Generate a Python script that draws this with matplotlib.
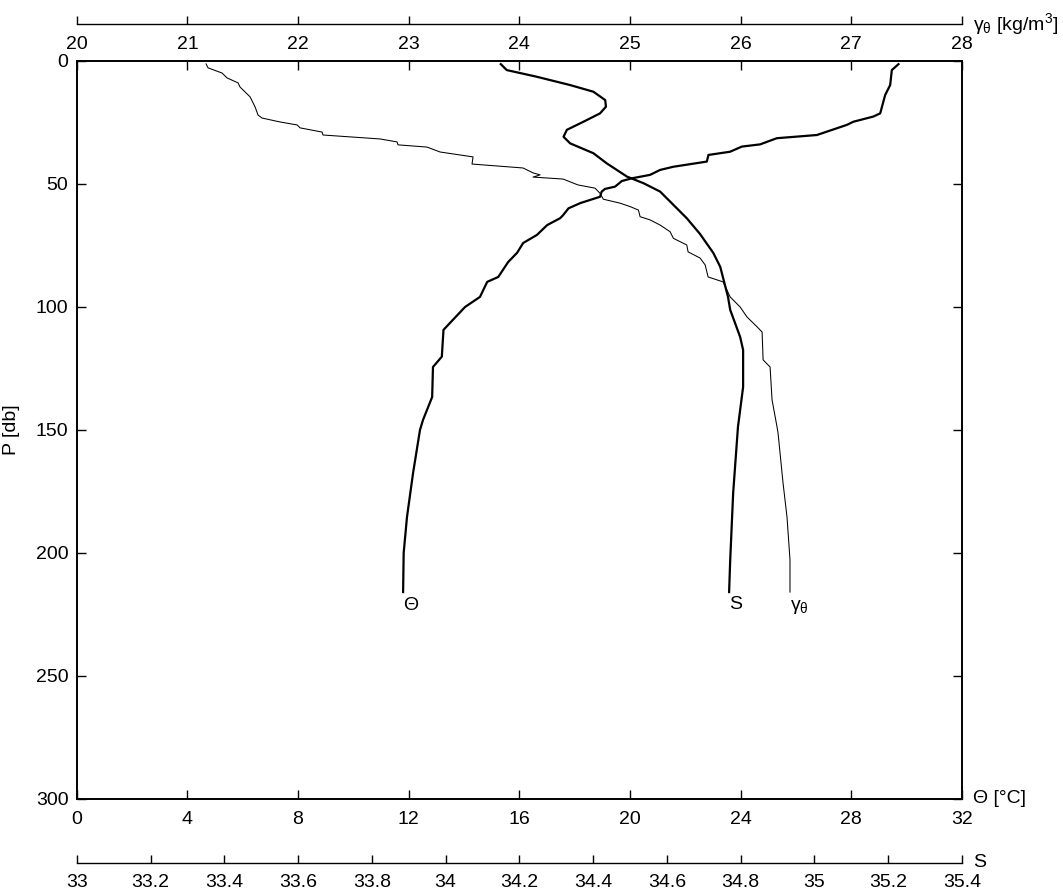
import matplotlib.pyplot as plt
from matplotlib.ticker import FuncFormatter

plt.rcParams['font.family'] = ['Liberation Sans', 'DejaVu Sans']
plt.rcParams['mathtext.fontset'] = 'custom'
plt.rcParams['mathtext.rm'] = 'Liberation Sans'
plt.rcParams['mathtext.it'] = 'Liberation Sans'
plt.rcParams['mathtext.default'] = 'regular'

# potential temperature profile
p_theta = [1.3, 3.7, 9.8, 13.8, 21.3, 22.6, 24.7, 26.0, 30.1, 31.4, 33.9, 34.8, 36.9,
           38.2, 40.9, 43.0, 44.3, 46.3, 47.7, 48.8, 51.1, 52.0, 53.1, 55.2, 57.8,
           59.9, 62.6, 63.9, 66.7, 70.7, 74.0, 78.0, 81.7, 87.8, 89.8, 95.9, 100.0,
           109.3, 120.2, 124.4, 136.6, 145.9, 150.0, 167.5, 185.4, 200.0, 215.9]
theta = [29.71, 29.47, 29.41, 29.23, 29.05, 28.80, 28.08, 27.84, 26.76, 25.31, 24.71,
         24.05, 23.62, 22.84, 22.78, 21.57, 21.09, 20.73, 20.07, 19.71, 19.46, 19.10,
         18.98, 18.92, 18.20, 17.78, 17.59, 17.48, 17.01, 16.64, 16.14, 15.92, 15.60,
         15.24, 14.84, 14.58, 14.04, 13.26, 13.20, 12.88, 12.85, 12.52, 12.41, 12.16,
         11.94, 11.82, 11.80]

# salinity profile
p_sal = [1.3, 3.7, 6.4, 9.8, 12.5, 15.9, 18.6, 21.3, 24.7, 28.0, 30.8, 33.5, 37.5,
         41.6, 47.0, 49.7, 53.1, 58.5, 63.9, 70.3, 78.0, 83.7, 95.9, 101.2, 112.2,
         117.5, 132.5, 148.8, 175.6, 202.8, 215.9]
sal = [34.150, 34.166, 34.247, 34.338, 34.401, 34.433, 34.435, 34.419, 34.374, 34.329,
       34.320, 34.338, 34.401, 34.437, 34.492, 34.537, 34.582, 34.618, 34.654, 34.690,
       34.726, 34.745, 34.766, 34.772, 34.799, 34.807, 34.807, 34.793, 34.780, 34.772,
       34.769]

# potential density anomaly profile
p_gam = [1.2, 2.8, 4.9, 6.9, 8.9, 10.6, 14.6, 18.7, 22.0, 23.2, 24.8, 26.0, 27.2, 28.9,
         30.1, 31.7, 32.9, 34.1, 35.0, 37.0, 39.0, 41.9, 43.5, 45.5, 46.3, 47.2, 48.0,
         50.4, 51.7, 53.8, 56.2, 57.8, 59.2, 60.6, 63.3, 64.6, 66.7, 69.4, 72.1, 74.8,
         77.6, 80.1, 82.9, 87.8, 89.8, 95.9, 100.0, 104.1, 108.1, 110.2, 121.5, 124.4,
         137.8, 148.8, 151.2, 171.5, 185.4, 202.8, 215.9]
gam = [21.169, 21.187, 21.313, 21.359, 21.458, 21.476, 21.567, 21.612, 21.639, 21.675,
       21.838, 21.992, 22.019, 22.218, 22.226, 22.742, 22.895, 22.904, 23.166, 23.284,
       23.582, 23.573, 24.034, 24.125, 24.188, 24.125, 24.396, 24.531, 24.685, 24.730,
       24.760, 24.911, 25.002, 25.077, 25.092, 25.182, 25.273, 25.363, 25.393, 25.514,
       25.526, 25.634, 25.680, 25.707, 25.842, 25.906, 25.996, 26.059, 26.150, 26.195,
       26.204, 26.267, 26.285, 26.330, 26.339, 26.384, 26.420, 26.447, 26.447]

theta_ticks = list(range(0, 33, 4))
gam_ticks = list(range(20, 29))
sal_ticks = [33 + 0.2 * i for i in range(13)]
p_ticks = list(range(0, 301, 50))

fs = 14
fig = plt.figure(figsize=(10.63, 8.94), dpi=100)
ax = fig.add_axes([0.0722, 0.1063, 0.8326, 0.8255])

top_off = 1.0501
bot_off = -0.0867

# density on its own x scale, axis line drawn above the box
ax_g = ax.twiny()
ax_g.plot(gam, p_gam, color='k', lw=0.75)
ax_g.set_xlim(20, 28)
ax_g.set_xticks(gam_ticks)
ax_g.xaxis.set_ticks_position('bottom')
ax_g.spines['bottom'].set_position(('axes', top_off))
for s in ['top', 'left', 'right']:
    ax_g.spines[s].set_visible(False)
ax_g.spines['bottom'].set_linewidth(1.0)
ax_g.tick_params(axis='x', direction='in', length=6, width=1.0, labelsize=fs, pad=9)
ax_g.text(gam[-1], 222, r'$\gamma_\theta$', fontsize=fs, ha='left', va='center')

# salinity on its own x scale, axis line drawn below the box
ax_s = ax.twiny()
ax_s.plot(sal, p_sal, color='k', lw=1.6)
ax_s.set_xlim(33, 35.4)
ax_s.set_xticks(sal_ticks)
ax_s.xaxis.set_major_formatter(FuncFormatter(lambda v, pos: '%g' % round(v, 1)))
ax_s.xaxis.set_ticks_position('bottom')
ax_s.spines['bottom'].set_position(('axes', bot_off))
for s in ['top', 'left', 'right']:
    ax_s.spines[s].set_visible(False)
ax_s.spines['bottom'].set_linewidth(1.0)
ax_s.tick_params(axis='x', direction='in', length=6, width=1.0, labelsize=fs, pad=8)
ax_s.text(sal[-1], 221, 'S', fontsize=fs, ha='left', va='center')

# temperature on the main box
ax.plot(theta, p_theta, color='k', lw=1.6)
ax.text(theta[-1], 221.5, 'Θ', fontsize=fs, ha='left', va='center')
ax.set_xlim(0, 32)
ax.set_ylim(300, 0)
ax.set_xticks(theta_ticks)
ax.set_yticks(p_ticks)
ax.tick_params(direction='in', top=True, right=True, length=6.5, width=1.0,
               labelsize=fs)
ax.tick_params(axis='x', pad=8.5)
ax.tick_params(axis='y', pad=6)
for s in ax.spines.values():
    s.set_linewidth(1.4)
ax.set_ylabel('P [db]', fontsize=fs)
ax.yaxis.set_label_coords(-0.064, 0.5)

ax.text(1.0128, 0, 'Θ [°C]', transform=ax.transAxes, fontsize=fs, ha='left', va='center')
ax.text(1.0128, bot_off, 'S', transform=ax.transAxes, fontsize=fs, ha='left', va='center')
ax.text(1.0128, top_off, r'$\gamma_\theta$ [kg/m$^3$]', transform=ax.transAxes,
        fontsize=fs, ha='left', va='center')

fig.savefig('out.png', dpi=100)
